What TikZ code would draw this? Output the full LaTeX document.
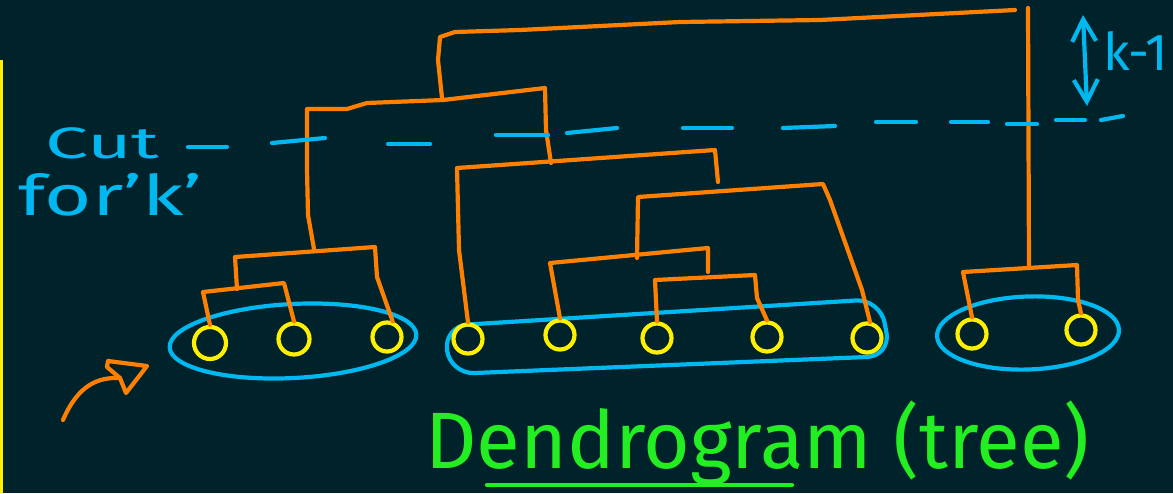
\documentclass[tikz,border=0pt]{standalone}
\usepackage{fontspec}
\usepackage{graphicx}
\setmainfont{Fira Sans}
\usetikzlibrary{arrows.meta,shapes.geometric}
\definecolor{bg}{HTML}{00222A}
\definecolor{dorange}{HTML}{FF8000}
\definecolor{dblue}{HTML}{00B8F0}
\definecolor{dyellow}{HTML}{FFF000}
\definecolor{dgreen}{HTML}{22EE22}
\begin{document}
\begin{tikzpicture}[x=1pt,y=-1pt,
  branch/.style={draw=dorange,line width=4.2pt,line cap=round,line join=round},
  leaf/.style={circle,draw=dyellow,line width=4.2pt,minimum size=29pt,inner sep=0pt},
  groupring/.style={ellipse,draw=dblue,line width=4.2pt,inner sep=0pt},
  ringpath/.style={draw=dblue,line width=4.2pt,line join=round},
  cutdash/.style={draw=dblue,line width=4.2pt,line cap=round},
  handblue/.style={text=dblue,inner sep=0pt,anchor=base west},
  handgreen/.style={text=dgreen,inner sep=0pt,anchor=base west}]
\useasboundingbox (0,0) rectangle (1173,493);
\fill[bg] (0,0) rectangle (1173,493);
\fill[dyellow] (0,60) rectangle (3,493);

% group rings
\node[groupring,minimum width=247pt,minimum height=74pt,rotate=3] (ga) at (293,341) {};
\node[groupring,minimum width=182pt,minimum height=73pt,rotate=2] (gc) at (1028,333) {};
\draw[ringpath,rounded corners=24pt] (444,326) -- (880,299) -- (891,356) -- (450,374) -- cycle;

% leaves
\node[leaf,minimum width=29pt,minimum height=32pt] (a1) at (210,343) {};
\node[leaf,minimum width=26pt,minimum height=31pt] (a2) at (294,339) {};
\node[leaf] (a3) at (387,337) {};
\node[leaf] (b1) at (468,339) {};
\node[leaf] (b2) at (560,335) {};
\node[leaf] (b3) at (657,338) {};
\node[leaf] (b4) at (767,337) {};
\node[leaf] (b5) at (867,338) {};
\node[leaf] (c1) at (972,334) {};
\node[leaf] (c2) at (1081,330) {};

% group 1 branches
\coordinate (a12L) at (203,292);
\coordinate (a12R) at (284,283);
\draw[branch] (a1.north) -- (a12L) -- (a12R) -- (a2.north);
\coordinate (a12m) at (237,289);
\coordinate (a123L) at (235,257);
\coordinate (a123R) at (375,247);
\draw[branch] (a12m) -- (a123L) -- (a123R) -- (377,277) -- (a3.70);
\coordinate (a123m) at (314,249);
\coordinate (abL) at (307,109);
\coordinate (abR) at (545,88);
\coordinate (b1m) at (551,163);
\draw[branch] (a123m) -- (308,215) -- (307,170) -- (abL) -- (347,109) -- (367,103) -- (443,100) -- (abR) -- (546,130) -- (b1m);

% group 2 branches
\coordinate (bTL) at (457,168);
\coordinate (bTR) at (715,150);
\draw[branch] (b1.north) -- (459,250) -- (bTL) -- (bTR) -- (718,182);
\coordinate (bSL) at (638,197);
\coordinate (bSR) at (823,184);
\draw[branch] (637,258) -- (bSL) -- (bSR) -- (830,200) -- (862,290) -- (870,322);
\coordinate (bRL) at (550,263);
\coordinate (bRR) at (708,248);
\draw[branch] (b2.north) -- (bRL) -- (bRR) -- (708,272);
\coordinate (bQL) at (655,280);
\coordinate (bQR) at (755,275);
\draw[branch] (b3.north) -- (bQL) -- (bQR) -- (757,298) -- (b4.north);

% top merge
\coordinate (topL) at (440,37);
\coordinate (topR) at (1028,8);
\coordinate (cm) at (1029,268);
\draw[branch] (442,98) -- (438,60) -- (topL) -- (455,32) -- (520,30) -- (680,22) -- (820,20) -- (1015,10);
\draw[branch] (topR) -- (cm);

% group 3 branches
\draw[branch] (c1.north) -- (963,272) -- (1077,265) -- (1078,300) -- (c2.north);

% cut line
\foreach \xa/\ya/\xb/\yb in {188/147/227/147, 272/143/325/138, 388/144/430/144, 496/135/548/135,
  567/133/617/128, 683/128/732/128, 783/128/835/126, 876/122/916/122, 951/122/988/122,
  1007/124/1037/124, 1056/120/1085/120, 1101/120/1123/116}
  \draw[cutdash] (\xa,\ya) -- (\xb,\yb);

% k-1 arrow
\coordinate (kTop) at (1083,15);
\coordinate (kBot) at (1087,106);
\draw[dblue,line width=4.2pt,line cap=round,
  {Straight Barb[length=22pt,width=24pt]}-{Straight Barb[length=22pt,width=24pt]}] (kTop) -- (kBot);
\node[handblue,font=\fontsize{52}{52}\selectfont] (klab) at (1103,70) {k-1};

% labels
\node[handblue,font=\fontsize{44}{44}\selectfont] (cutlab) at (45,158) {\scalebox{1.75}[1]{Cut}};
\node[handblue,font=\fontsize{56}{56}\selectfont] (forlab) at (18,215) {\scalebox{1.45}[1]{for'k'}};
\node[handgreen,font=\fontsize{80}{80}\selectfont] (title) at (425,468) {Dendrogram (tree)};
\coordinate (ulL) at (487,485);
\coordinate (ulR) at (792,485);
\draw[dgreen,line width=4.2pt,line cap=round] (ulL) -- (ulR);

% pointer arrow
\coordinate (ptail) at (63,420);
\coordinate (pnotch) at (120,378);
\draw[branch] (ptail) .. controls (78,385) and (98,377) .. (pnotch);
\draw[branch] (108,361) -- (147,366) -- (126,393) -- (pnotch) -- (107,367) -- cycle;
\end{tikzpicture}
\end{document}
